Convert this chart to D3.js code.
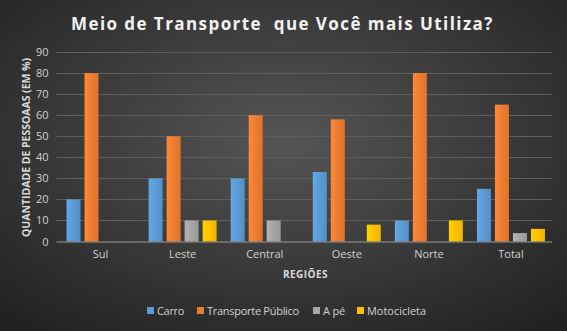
<!DOCTYPE html>
<html><head><meta charset="utf-8">
<script src="https://cdn.jsdelivr.net/npm/d3@7"></script>
<style>html,body{margin:0;padding:0;background:#333;}svg{display:block;}</style>
</head><body>
<script>
const categories = ["Sul","Leste","Central","Oeste","Norte","Total"];
const seriesNames = ["Carro","Transporte Público","A pé","Motocicleta"];
const carro = [20,30,30,33,10,25];
const transportePublico = [80,50,60,58,80,65];
const aPe = [0,10,10,0,0,4];
const motocicleta = [0,10,0,8,10,6];
const yTicks = [0,10,20,30,40,50,60,70,80,90];
const colors = ["#5B9BD5","#ED7D31","#A5A5A5","#FFC000"];
const seriesValues = [carro, transportePublico, aPe, motocicleta];

(function(){
const W=567,H=331;
const svg=d3.select("body").append("svg").attr("width",W).attr("height",H);
const defs=svg.append("defs");
const rg=defs.append("radialGradient").attr("id","bg").attr("cx","50%").attr("cy","42%").attr("r","72%");
rg.append("stop").attr("offset","0%").attr("stop-color","#555555");
rg.append("stop").attr("offset","100%").attr("stop-color","#222222");
svg.append("rect").attr("width",W).attr("height",H).attr("fill","url(#bg)");

colors.forEach((c,i)=>{
  const g=defs.append("linearGradient").attr("id","bar"+i).attr("x1","0").attr("x2","1").attr("y1","0").attr("y2","0");
  g.append("stop").attr("offset","0%").attr("stop-color",d3.color(c).brighter(0.25));
  g.append("stop").attr("offset","50%").attr("stop-color",c);
  g.append("stop").attr("offset","100%").attr("stop-color",d3.color(c).darker(0.2));
});

function fit(sel,target){
  const n=sel.text().length;
  const w=sel.node().getComputedTextLength();
  sel.attr("letter-spacing",((target-w)/n).toFixed(2)+"px");
}

const pl=59.5,pr=552,pt=52,pb=241.5;
const x=d3.scaleBand().domain(categories).range([pl,pr]).paddingInner(0).paddingOuter(0);
const y=d3.scaleLinear().domain([0,90]).range([pb,pt]);
const xs=d3.scaleBand().domain(d3.range(4)).range([0,68]).paddingInner(4/18);

svg.append("g").selectAll("line").data(yTicks.filter(d=>d>0)).join("line")
  .attr("x1",pl-3).attr("x2",pr).attr("y1",d=>Math.round(y(d))+0.5).attr("y2",d=>Math.round(y(d))+0.5)
  .attr("stroke","#5e5e5e").attr("stroke-width",1);

const ya=svg.append("g").attr("transform",`translate(${pl-3},0)`)
  .call(d3.axisLeft(y).tickValues(yTicks).tickSize(0).tickPadding(8));
ya.select(".domain").remove();
ya.selectAll("text").attr("fill","#d0d0d0").attr("font-family","'Open Sans',sans-serif").attr("font-size","11px");

const grp=svg.append("g").selectAll("g").data(categories).join("g")
  .attr("transform",c=>`translate(${x(c)+x.bandwidth()/2-34},0)`);
grp.selectAll("rect").data((c,ci)=>seriesValues.map((s,si)=>({si,v:s[ci]}))).join("rect")
  .attr("x",d=>xs(d.si)).attr("width",xs.bandwidth())
  .attr("y",d=>y(d.v)).attr("height",d=>pb-y(d.v))
  .attr("fill",d=>`url(#bar${d.si})`);

const xa=svg.append("g").attr("transform",`translate(0,${pb})`)
  .call(d3.axisBottom(x).tickSize(0).tickPadding(9));
xa.select(".domain").attr("stroke","#9a9a9a").attr("d",`M${pl-3},0.5H${pr}`);
xa.selectAll("text").attr("fill","#d0d0d0").attr("font-family","'Open Sans',sans-serif").attr("font-size","11px");

const t=svg.append("text").attr("x",71).attr("y",30)
  .attr("fill","#f2f2f2").attr("font-family","'Open Sans',sans-serif").attr("font-weight","bold")
  .attr("font-size","17px").attr("xml:space","preserve")
  .text("Meio de Transporte  que Você mais Utiliza?");
fit(t,423);
const yt=svg.append("text").attr("transform",`translate(29.5,237) rotate(-90)`)
  .attr("fill","#d9d9d9").attr("font-family","'Open Sans',sans-serif").attr("font-weight","bold").attr("font-size","10.5px")
  .text("QUANTIDADE DE PESSOAAS (EM %)");
fit(yt,179);
const rt=svg.append("text").attr("x",283).attr("y",278)
  .attr("fill","#d9d9d9").attr("font-family","'Open Sans',sans-serif").attr("font-weight","bold").attr("font-size","10px")
  .text("REGIÕES");
fit(rt,45);

const legX=[147,197,313,357];
const legW=[27,92,22,59];
const lg=svg.append("g").selectAll("g").data(seriesNames).join("g")
  .attr("transform",(d,i)=>`translate(${legX[i]},0)`);
lg.append("rect").attr("x",0).attr("y",307).attr("width",7).attr("height",7).attr("fill",(d,i)=>colors[i]);
lg.append("text").attr("x",10).attr("y",315).attr("fill","#d0d0d0")
  .attr("font-family","'Open Sans',sans-serif").attr("font-size","11px").text(d=>d)
  .each(function(d,i){ fit(d3.select(this),legW[i]); });
})();
</script>
</body></html>
